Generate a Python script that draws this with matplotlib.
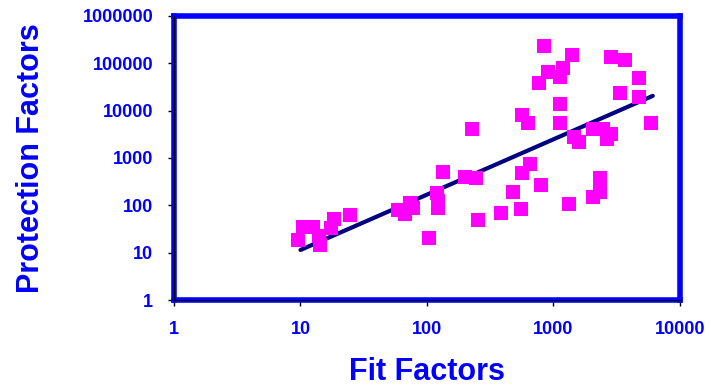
import numpy as np
import matplotlib
matplotlib.use("Agg")
import matplotlib.pyplot as plt

# fit factor vs protection factor
fit_factors = [9.6, 10.5, 12.6, 14.1, 14.2, 17.5, 18.5, 24.8, 59, 67, 74, 77,
               104, 119, 123, 123, 135, 201, 225, 246, 255, 388, 483, 549,
               569, 624, 569, 647, 791, 835, 898, 762, 1117, 1200, 1390,
               1117, 1117, 1443, 1580, 1318, 2040, 2450, 2830, 2630, 2318,
               2318, 2040, 2830, 3656, 4720, 3340, 4720, 5870]
protection_factors = [18.5, 35, 35, 22.5, 14.5, 33, 51, 63, 80, 66, 112, 88,
                      20.5, 183, 124, 88, 508, 398, 4120, 380, 49, 69, 192, 84,
                      8150, 5520, 484, 750, 270, 234000, 66000, 38700, 51800,
                      80300, 151000, 13900, 5520, 2790, 2190, 107, 4120, 4120,
                      3230, 2535, 380, 192, 150, 137000, 118600, 49300, 23800,
                      19600, 5520]

# regression line endpoints
fit_x = [10, 6100]
fit_y = [11.4, 20500]

x_ticks = [1, 10, 100, 1000, 10000]
y_ticks = [1, 10, 100, 1000, 10000, 100000, 1000000]

blue = "#0000FF"

plt.rcParams["font.family"] = ["Liberation Sans", "DejaVu Sans"]
plt.rcParams["font.weight"] = "bold"

fig = plt.figure(figsize=(7.11, 3.87), dpi=100)
ax = fig.add_axes([0.2447, 0.2248, 0.7116, 0.734])

ax.plot(fit_x, fit_y, color="#000080", lw=3, zorder=2, solid_capstyle="round")
ax.scatter(fit_factors, protection_factors, marker="s", s=105,
           color="#FF00FF", linewidths=0, zorder=3)

ax.set_xscale("log")
ax.set_yscale("log")
ax.set_xlim(1, 10000)
ax.set_ylim(1, 1000000)
ax.set_xticks(x_ticks)
ax.set_xticklabels([str(v) for v in x_ticks])
ax.set_yticks(y_ticks)
ax.set_yticklabels([str(v) for v in y_ticks])
ax.minorticks_off()

ax.tick_params(direction="out", length=4, width=1, color="black",
               labelcolor=blue, labelsize=13, pad=11)
for lab in ax.get_xticklabels() + ax.get_yticklabels():
    lab.set_fontweight("bold")

for sp in ax.spines.values():
    sp.set_color(blue)
    sp.set_linewidth(4)

# thin black axis lines just outside the left and bottom frame
ax.plot([0, 0], [0, 1], transform=ax.transAxes, color="black", lw=0.8,
        clip_on=False, zorder=5)
ax.plot([0, 1], [0, 0], transform=ax.transAxes, color="black", lw=0.8,
        clip_on=False, zorder=5)

ax.set_xlabel("Fit Factors", color=blue, fontsize=22, fontweight="bold", labelpad=14)
ax.set_ylabel("Protection Factors", color=blue, fontsize=22, fontweight="bold", labelpad=26)

fig.savefig("out.png", dpi=100)
